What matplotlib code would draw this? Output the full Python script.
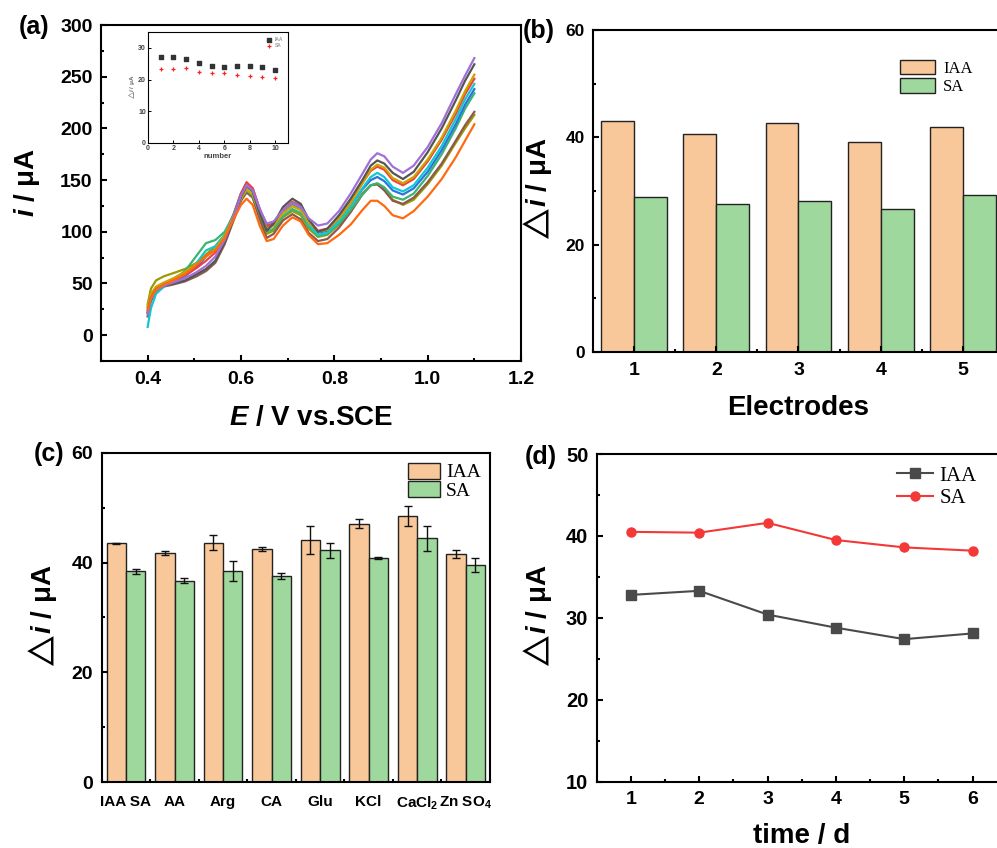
import matplotlib
matplotlib.use('Agg')
import numpy as np
import matplotlib.pyplot as plt
from matplotlib.ticker import MultipleLocator

# ---- (a) DPV curves of 10 repeated measurements ----
E_V = [0.400, 0.407, 0.418, 0.435, 0.455, 0.48, 0.505, 0.525, 0.545, 0.565, 0.585, 0.600,
       0.612, 0.625, 0.640, 0.655, 0.670, 0.690, 0.710, 0.728, 0.745, 0.765, 0.785, 0.81,
       0.835, 0.86, 0.878, 0.892, 0.907, 0.925, 0.947, 0.97, 1.00, 1.03, 1.06, 1.08, 1.10]

run_purple = [20, 35, 43, 48, 51, 55, 61, 67, 76, 92, 115, 135, 145, 140, 122, 108, 110, 121, 128, 124,
              113, 106, 108, 120, 137, 156, 170, 176, 173, 163, 157, 164, 182, 205, 233, 251, 268]
run_gray = [22, 36, 44, 48, 50, 53, 59, 64, 72, 90, 114, 134, 144, 139, 118, 101, 108, 124, 132, 127,
            112, 100, 103, 116, 132, 150, 164, 169, 166, 157, 151, 158, 177, 200, 227, 246, 262]
run_gold = [28, 40, 47, 51, 55, 61, 69, 76, 83, 96, 116, 132, 141, 136, 118, 103, 106, 118, 125, 121,
            109, 100, 102, 113, 128, 147, 160, 165, 162, 152, 147, 153, 170, 191, 217, 236, 252]
run_red = [25, 38, 45, 50, 53, 58, 65, 72, 80, 95, 117, 137, 148, 142, 122, 105, 108, 121, 129, 125,
           111, 101, 103, 114, 129, 147, 159, 163, 160, 150, 145, 151, 168, 189, 214, 233, 248]
run_cyan = [8, 26, 40, 47, 52, 58, 70, 82, 86, 97, 118, 137, 147, 141, 121, 104, 106, 118, 125, 121,
            107, 97, 99, 110, 125, 142, 153, 157, 153, 143, 139, 145, 162, 183, 209, 228, 243]
run_blue = [22, 36, 44, 49, 52, 57, 66, 76, 83, 96, 118, 137, 147, 142, 122, 106, 108, 120, 126, 122,
            109, 99, 101, 111, 125, 141, 150, 153, 149, 140, 136, 142, 158, 179, 204, 223, 238]
run_green = [27, 39, 46, 50, 54, 62, 77, 89, 92, 100, 117, 132, 140, 135, 117, 100, 103, 115, 122, 118,
             105, 96, 98, 108, 121, 136, 145, 147, 143, 134, 131, 137, 154, 175, 200, 219, 234]
run_brown = [18, 33, 42, 47, 49, 52, 57, 62, 70, 88, 112, 130, 138, 133, 112, 94, 98, 111, 117, 112,
             99, 91, 93, 104, 119, 136, 145, 146, 140, 130, 127, 133, 148, 166, 188, 203, 216]
run_olive = [30, 45, 53, 57, 60, 64, 70, 78, 86, 97, 116, 131, 139, 134, 115, 98, 101, 114, 120, 116,
             103, 95, 97, 107, 121, 137, 145, 146, 141, 131, 126, 131, 146, 164, 186, 200, 213]
run_orange = [24, 36, 44, 49, 53, 59, 68, 77, 82, 94, 113, 126, 132, 126, 106, 91, 93, 106, 114, 110,
              97, 88, 89, 97, 107, 121, 130, 130, 125, 116, 113, 120, 134, 151, 172, 188, 204]

# inset: peak currents vs measurement number
inset_n = [1, 2, 3, 4, 5, 6, 7, 8, 9, 10]
inset_iaa = [27.0, 27.2, 26.5, 25.2, 24.3, 24.0, 24.2, 24.4, 24.0, 23.1]
inset_sa = [23.2, 23.3, 23.5, 22.3, 22.0, 22.0, 21.5, 21.1, 20.9, 20.5]

# ---- (b) five electrodes ----
electrodes = [1, 2, 3, 4, 5]
elec_iaa = [43.1, 40.7, 42.6, 39.2, 41.9]
elec_sa = [28.8, 27.6, 28.1, 26.6, 29.3]

# ---- (c) interference ----
interferents = ['IAA SA', 'AA', 'Arg', 'CA', 'Glu', 'KCl', 'CaCl$_2$', 'Zn SO$_4$']
intf_iaa = [43.5, 41.7, 43.6, 42.4, 44.1, 47.1, 48.4, 41.5]
intf_iaa_err = [0.1, 0.4, 1.4, 0.35, 2.5, 0.8, 1.8, 0.75]
intf_sa = [38.4, 36.7, 38.4, 37.5, 42.2, 40.8, 44.4, 39.6]
intf_sa_err = [0.45, 0.45, 1.8, 0.55, 1.4, 0.15, 2.3, 1.25]

# ---- (d) stability over days ----
days = [1, 2, 3, 4, 5, 6]
day_iaa = [32.8, 33.3, 30.4, 28.8, 27.4, 28.1]
day_sa = [40.5, 40.4, 41.6, 39.5, 38.6, 38.2]

plt.rcParams['font.family'] = ['Liberation Sans', 'DejaVu Sans']
plt.rcParams['font.weight'] = 'bold'
plt.rcParams['axes.labelweight'] = 'bold'
plt.rcParams['mathtext.fontset'] = 'custom'
plt.rcParams['mathtext.rm'] = 'Liberation Sans:bold'
plt.rcParams['mathtext.it'] = 'Liberation Sans:italic:bold'
plt.rcParams['mathtext.bf'] = 'Liberation Sans:bold'
plt.rcParams['axes.linewidth'] = 1.5

PEACH = '#f9c89a'
GREEN = '#9fd89d'
serif = {'family': 'Liberation Serif', 'weight': 'normal'}
dlabel = r'$\triangle\!i$ / ' + '\u03bcA'


def style(ax, xsize, ysize, xpad=7, ypad=6):
    ax.tick_params(which='both', direction='in', width=1.5, top=False, right=False)
    ax.tick_params(which='major', length=4)
    ax.tick_params(which='minor', length=2.5)
    ax.tick_params(axis='x', labelsize=xsize, pad=xpad)
    ax.tick_params(axis='y', labelsize=ysize, pad=ypad)


fig = plt.figure(figsize=(9.97, 8.48), dpi=100)

# (a)
ax = fig.add_axes([0.1013, 0.5743, 0.4213, 0.3962])
runs = [(run_olive, '#9c9a00'), (run_brown, '#8b5a4c'), (run_green, '#3cb371'),
        (run_blue, '#2a74e0'), (run_cyan, '#10c8d2'), (run_red, '#f04040'),
        (run_gold, '#cfa200'), (run_gray, '#555555'), (run_purple, '#a070d8'),
        (run_orange, '#ff6a10')]
for vals, c in runs:
    ax.plot(E_V, vals, color=c, lw=1.6)
ax.set_xlim(0.3, 1.2)
ax.set_ylim(-25, 300)
ax.xaxis.set_minor_locator(MultipleLocator(0.1))
ax.yaxis.set_major_locator(MultipleLocator(50))
ax.yaxis.set_minor_locator(MultipleLocator(25))
ax.set_xticks([0.4, 0.6, 0.8, 1.0, 1.2])
ax.set_xticklabels(['0.4', '0.6', '0.8', '1.0', '1.2'])
style(ax, 14, 14)
ax.set_xlabel('$E$ / V vs.SCE', fontsize=20)
ax.xaxis.set_label_coords(0.5, -0.13)
ax.set_ylabel('$i$ / \u03bcA', fontsize=20)
ax.yaxis.set_label_coords(-0.14, 0.53)

ins = fig.add_axes([0.1484, 0.8314, 0.1404, 0.1309])
ins.scatter(inset_n, inset_iaa, marker='s', s=5, color='#333333', label='IAA')
ins.scatter(inset_n, inset_sa, marker='+', s=12, color='#ff2020', linewidths=0.9, label='SA')
ins.set_xlim(0, 11)
ins.set_ylim(0, 35)
ins.set_xticks([0, 2, 4, 6, 8, 10])
ins.set_yticks([0, 10, 20, 30])
for s in ins.spines.values():
    s.set_linewidth(0.8)
ins.tick_params(direction='in', length=2, width=0.7, labelsize=5, pad=1.5, labelcolor='#444444')
ins.set_xlabel('number', fontsize=5.5, labelpad=1, color='#444444')
ins.set_ylabel(dlabel, fontsize=4.5, labelpad=1, color='#666666')
ins.legend(loc='upper right', fontsize=3.5, frameon=False, handletextpad=0.2,
           labelspacing=0.3, borderaxespad=0.6, labelcolor='#999999')

# (b)
ax = fig.add_axes([0.5948, 0.5849, 0.4122, 0.3797])
x = np.array(electrodes)
ax.bar(x - 0.2, elec_iaa, 0.4, color=PEACH, edgecolor='#222222', lw=1.0, label='IAA')
ax.bar(x + 0.2, elec_sa, 0.4, color=GREEN, edgecolor='#222222', lw=1.0, label='SA')
ax.set_xlim(0.5, 5.5)
ax.set_ylim(0, 60)
ax.set_xticks(electrodes)
ax.xaxis.set_minor_locator(MultipleLocator(0.5))
ax.yaxis.set_major_locator(MultipleLocator(20))
ax.yaxis.set_minor_locator(MultipleLocator(10))
style(ax, 14, 12.5)
ax.set_xlabel('Electrodes', fontsize=20)
ax.xaxis.set_label_coords(0.5, -0.135)
ax.set_ylabel(dlabel, fontsize=20)
ax.yaxis.set_label_coords(-0.095, 0.5)
ax.legend(loc='upper left', bbox_to_anchor=(900 / 997, 1 - 60 / 848), bbox_transform=fig.transFigure,
          prop=dict(serif, size=12), frameon=False, borderpad=0, borderaxespad=0,
          handlelength=2.1, handleheight=0.95, labelspacing=0.08, handletextpad=0.5)

# (c)
ax = fig.add_axes([0.1020, 0.0775, 0.3895, 0.3887])
x = np.arange(1, len(interferents) + 1)
ax.bar(x - 0.2, intf_iaa, 0.4, color=PEACH, edgecolor='#222222', lw=1.0, label='IAA')
ax.bar(x + 0.2, intf_sa, 0.4, color=GREEN, edgecolor='#222222', lw=1.0, label='SA')
ax.errorbar(x - 0.2, intf_iaa, yerr=intf_iaa_err, fmt='none', ecolor='#111111',
            elinewidth=1, capsize=3, capthick=1)
ax.errorbar(x + 0.2, intf_sa, yerr=intf_sa_err, fmt='none', ecolor='#111111',
            elinewidth=1, capsize=3, capthick=1)
ax.set_xlim(0.5, 8.5)
ax.set_ylim(0, 60)
ax.set_xticks(x)
ax.set_xticklabels(interferents)
ax.xaxis.set_minor_locator(MultipleLocator(0.5))
ax.yaxis.set_major_locator(MultipleLocator(20))
ax.yaxis.set_minor_locator(MultipleLocator(10))
style(ax, 11, 14, xpad=9)
ax.tick_params(axis='x', which='major', length=0)
ax.set_ylabel(dlabel, fontsize=20)
ax.yaxis.set_label_coords(-0.11, 0.5)
ax.legend(loc='upper left', bbox_to_anchor=(408 / 997, 1 - 463 / 848), bbox_transform=fig.transFigure,
          prop=dict(serif, size=14), frameon=False, borderpad=0, borderaxespad=0,
          handlelength=1.65, handleheight=0.85, labelspacing=0.0, handletextpad=0.3)

# (d)
ax = fig.add_axes([0.5985, 0.0782, 0.4113, 0.3864])
ax.plot(days, day_iaa, color='#4a4a4a', lw=1.5, marker='s', ms=6.5, label='IAA')
ax.plot(days, day_sa, color='#f43838', lw=1.5, marker='o', ms=6.5, label='SA')
ax.set_xlim(0.5, 6.5)
ax.set_ylim(10, 50)
ax.set_xticks(days)
ax.xaxis.set_minor_locator(MultipleLocator(0.5))
ax.yaxis.set_major_locator(MultipleLocator(10))
ax.yaxis.set_minor_locator(MultipleLocator(5))
style(ax, 14, 14.5)
ax.set_xlabel('time / d', fontsize=20)
ax.xaxis.set_label_coords(0.5, -0.125)
ax.set_ylabel(dlabel, fontsize=20)
ax.yaxis.set_label_coords(-0.105, 0.5)
ax.legend(loc='upper left', bbox_to_anchor=(897 / 997, 1 - 466 / 848), bbox_transform=fig.transFigure,
          prop=dict(serif, size=15), frameon=False, borderpad=0, borderaxespad=0,
          handlelength=1.75, labelspacing=0.15, handletextpad=0.3)

for lab, px, py in [('(a)', 19, 27), ('(b)', 523, 31), ('(c)', 34, 454), ('(d)', 525, 457)]:
    fig.text(px / 997, 1 - py / 848, lab, fontsize=18, fontweight='bold', va='center', ha='left')

fig.savefig('out.png', dpi=100)
